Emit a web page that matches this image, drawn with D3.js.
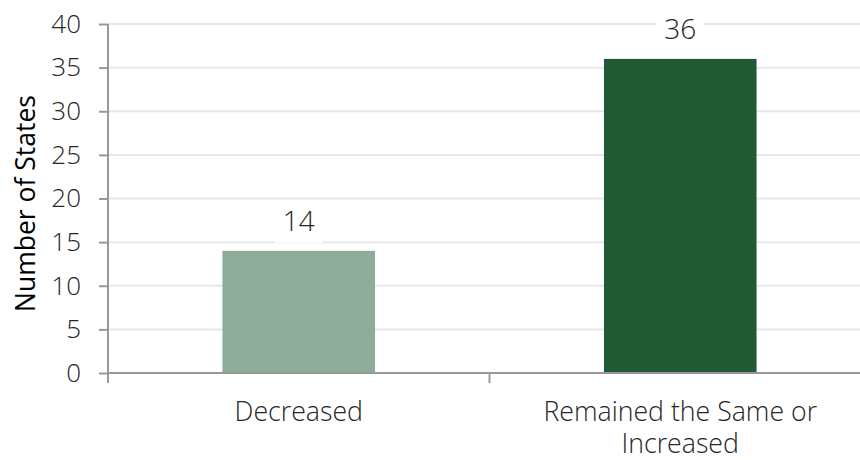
<!DOCTYPE html>
<html>
<head>
<meta charset="utf-8">
<script src="https://cdn.jsdelivr.net/npm/d3@7"></script>
<style>
  html, body { margin: 0; padding: 0; background: #fff; }
  svg { display: block; font-family: "Open Sans", sans-serif; }
</style>
</head>
<body>
<svg id="chart" width="860" height="460"></svg>
<script>
const categories = ["Decreased", "Remained the Same or Increased"];
const categoryLines = [["Decreased"], ["Remained the Same or", "Increased"]];
const values = [14, 36];
const barColors = ["#8fab99", "#225935"];
const yTicks = [0, 5, 10, 15, 20, 25, 30, 35, 40];
const yTitle = "Number of States";

(function () {
const svg = d3.select("#chart");
const mLeft = 108, mRight = 871, mTop = 24, mBottom = 373;

const x = d3.scaleBand().domain(categories).range([mLeft, mRight])
  .paddingInner(0.6).paddingOuter(0.3);
const y = d3.scaleLinear().domain([0, 40]).range([mBottom, mTop]);

// gridlines
svg.append("g").selectAll("line").data(yTicks.filter(d => d > 0)).join("line")
  .attr("x1", mLeft).attr("x2", 860)
  .attr("y1", d => y(d)).attr("y2", d => y(d))
  .attr("stroke", "#e4e9e7").attr("stroke-width", 2);

// bars
svg.append("g").selectAll("rect").data(values).join("rect")
  .attr("x", (d, i) => x(categories[i]))
  .attr("width", x.bandwidth())
  .attr("y", d => y(d))
  .attr("height", d => y(0) - y(d))
  .attr("fill", (d, i) => barColors[i]);

// y axis
const yAxis = svg.append("g").attr("transform", `translate(${mLeft},0)`)
  .call(d3.axisLeft(y).tickValues(yTicks).tickSize(9).tickPadding(18));
yAxis.select(".domain").remove();
yAxis.selectAll(".tick line").attr("stroke", "#999").attr("stroke-width", 2);
yAxis.selectAll(".tick text").attr("font-size", 26).attr("font-weight", 300)
  .attr("fill", "#262626").attr("font-family", "'Open Sans', sans-serif");
svg.append("line").attr("x1", mLeft).attr("x2", mLeft)
  .attr("y1", y(40)).attr("y2", mBottom + 10)
  .attr("stroke", "#999").attr("stroke-width", 2);

// x axis line
svg.append("line").attr("x1", mLeft).attr("x2", 860)
  .attr("y1", mBottom).attr("y2", mBottom)
  .attr("stroke", "#999").attr("stroke-width", 2);
// category boundary ticks
const step = x.step();
const bounds = categories.map(c => x(c) + x.bandwidth() / 2 - step / 2)
  .concat([x(categories[categories.length - 1]) + x.bandwidth() / 2 + step / 2]);
svg.append("g").selectAll("line").data(bounds).join("line")
  .attr("x1", d => d).attr("x2", d => d)
  .attr("y1", mBottom).attr("y2", mBottom + 10)
  .attr("stroke", "#999").attr("stroke-width", 2);

// category labels
const catG = svg.append("g");
categories.forEach((c, i) => {
  const t = catG.append("text")
    .attr("x", x(c) + x.bandwidth() / 2)
    .attr("y", mBottom + 48)
    .attr("text-anchor", "middle")
    .attr("font-size", 26.7).attr("font-weight", 300).attr("fill", "#262626");
  categoryLines[i].forEach((line, j) => {
    t.append("tspan").attr("x", x(c) + x.bandwidth() / 2)
      .attr("dy", j === 0 ? 0 : 32).text(line);
  });
});

// value labels with white background
const lblG = svg.append("g");
values.forEach((v, i) => {
  const cx = x(categories[i]) + x.bandwidth() / 2;
  const g = lblG.append("g");
  const txt = g.append("text")
    .attr("x", cx).attr("y", y(v) - 20)
    .attr("text-anchor", "middle")
    .attr("font-size", 28).attr("font-weight", 300).attr("fill", "#262626")
    .text(v);
  const bb = txt.node().getBBox();
  g.insert("rect", "text")
    .attr("x", bb.x - 8).attr("y", bb.y)
    .attr("width", bb.width + 16).attr("height", bb.height + 4)
    .attr("fill", "#fff");
});

// y title
svg.append("text")
  .attr("transform", `translate(35,${(mTop + mBottom) / 2 + 5}) rotate(-90)`)
  .attr("text-anchor", "middle")
  .attr("font-size", 26.5).attr("font-weight", 400).attr("fill", "#000")
  .text(yTitle);
})();
</script>
</body>
</html>
